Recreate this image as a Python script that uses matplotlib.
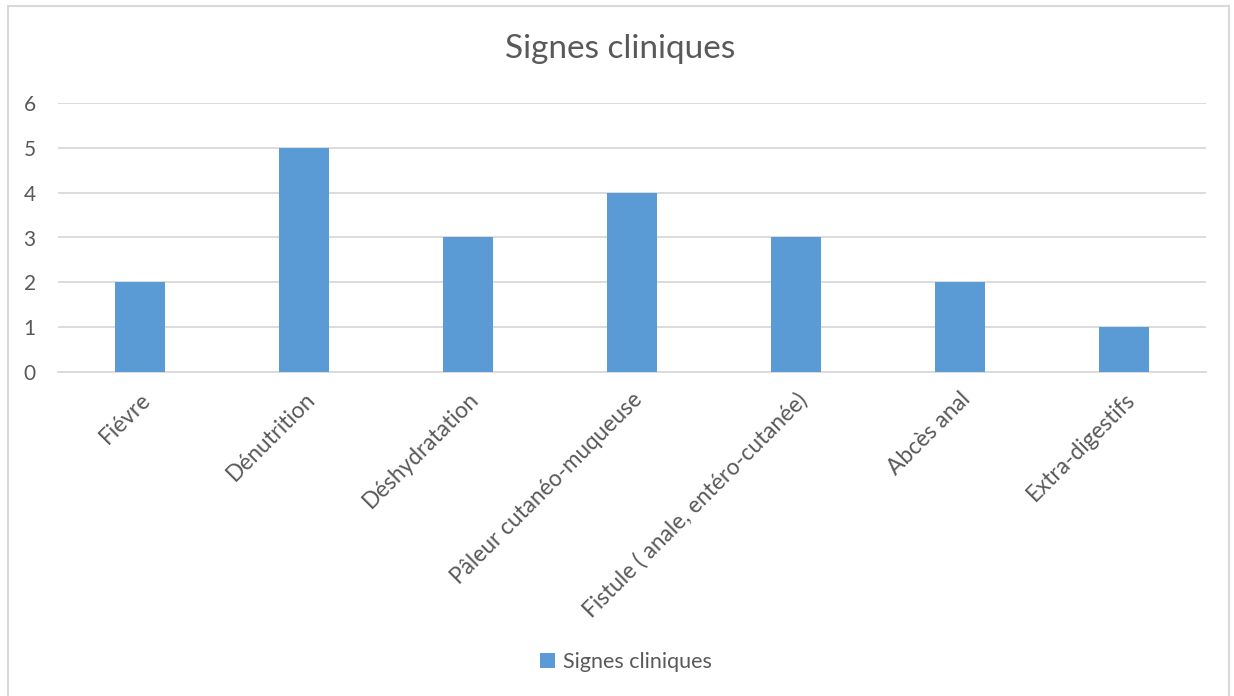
import matplotlib.pyplot as plt
from matplotlib.patches import Rectangle

# counts per clinical sign
categories = ["Fiévre", "Dénutrition", "Déshydratation", "Pâleur cutanéo-muqueuse",
              "Fistule ( anale, entéro-cutanée)", "Abcès anal", "Extra-digestifs"]
values = [2, 5, 3, 4, 3, 2, 1]
y_ticks = [0, 1, 2, 3, 4, 5, 6]
series_name = "Signes cliniques"

plt.rcParams['font.family'] = ['Lato', 'DejaVu Sans']
text_color = "#595959"
bar_color = "#5b9bd5"
grid_color = "#d9d9d9"

fig = plt.figure(figsize=(12.34, 6.96), dpi=100)
ax = fig.add_axes([58 / 1234, 1 - 372 / 696, (1206 - 58) / 1234, (372 - 103) / 696])

x = list(range(len(categories)))
ax.bar(x, values, width=0.305, color=bar_color, label=series_name, zorder=3)

ax.set_xlim(-0.5, len(categories) - 0.5)
ax.set_ylim(0, 6)
ax.set_yticks(y_ticks)
ax.yaxis.grid(True, color=grid_color, linewidth=1.3, zorder=0)
ax.set_axisbelow(True)

for side in ["top", "right", "left"]:
    ax.spines[side].set_visible(False)
ax.spines["bottom"].set_color(grid_color)
ax.spines["bottom"].set_linewidth(1.3)

ax.tick_params(axis="both", length=0, colors=text_color, labelsize=15)
ax.tick_params(axis="y", pad=16)
ax.set_xticks(x)
ax.set_xticklabels(categories, rotation=45, ha="right", va="top",
                   rotation_mode="anchor", color=text_color, fontsize=16.3)
ax.tick_params(axis="x", pad=12)

fig.text(620 / 1234, 1 - 49 / 696, "Signes cliniques", ha="center", va="center",
         fontsize=24, color=text_color)

fig.legend(loc="center", bbox_to_anchor=(626 / 1234, 1 - 662 / 696), frameon=False,
           fontsize=15.5, labelcolor=text_color, handlelength=0.7, handleheight=0.7,
           handletextpad=0.4)

# light frame round the chart
fig.patches.append(Rectangle((8 / 1234, -0.01), 1221 / 1234, 1.01 - 6 / 696,
                             transform=fig.transFigure, fill=False,
                             edgecolor="#d9d9d9", linewidth=1.5))

fig.savefig("out.png", dpi=100)
